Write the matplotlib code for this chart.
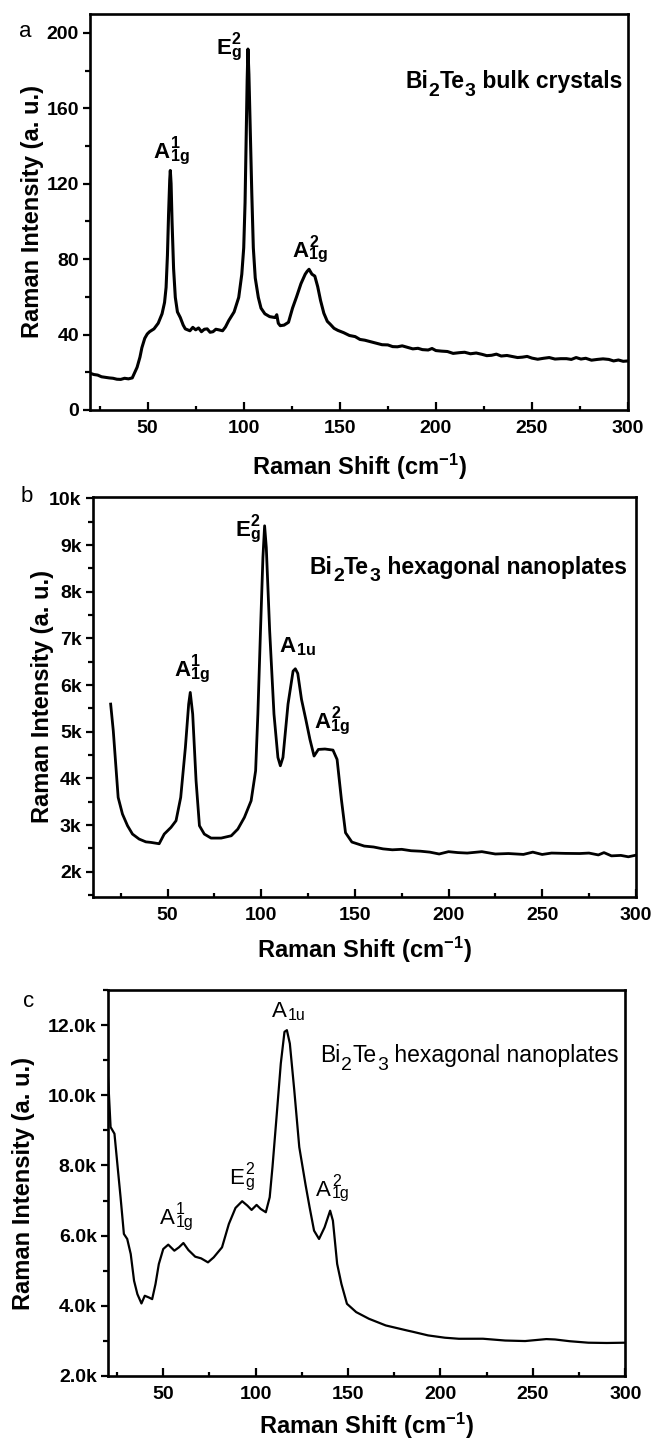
import matplotlib
matplotlib.use('Agg')
import matplotlib.pyplot as plt
from matplotlib.ticker import MultipleLocator, FuncFormatter

plt.rcParams['font.family'] = ['Liberation Sans', 'DejaVu Sans']
plt.rcParams['font.weight'] = 'bold'
plt.rcParams['mathtext.fontset'] = 'custom'
plt.rcParams['mathtext.rm'] = 'Liberation Sans:bold'
plt.rcParams['mathtext.it'] = 'Liberation Sans:bold'
plt.rcParams['mathtext.bf'] = 'Liberation Sans:bold'
plt.rcParams['mathtext.default'] = 'rm'

# ---------------- data ----------------
# panel a: Bi2Te3 bulk crystals
shift_a = [20, 22, 24, 26, 28, 30, 32, 34, 36, 38, 40, 42, 44.5, 46, 47, 48.5, 49.8, 51, 53.3,
           55.5, 57.5, 58.8, 59.6, 60.3, 60.9, 61.5, 61.8, 62.2, 62.7, 63.5, 64.4, 65.5, 67,
           68.5, 69.6, 72, 73.5, 75, 76.5, 78, 79.5, 81, 82.5, 84, 85.5, 87, 89, 90.5, 92.2, 95,
           97.4, 99, 100, 100.7, 101.2, 101.8, 102.2, 102.7, 103.4, 104.2, 105, 106, 107.6, 109,
           111, 113.5, 116.3, 117.2, 118, 119, 121, 123.3, 125.4, 127.5, 129.8, 132, 133,
           134, 135.5, 137, 138.5, 140, 141.7, 143.5, 145, 147, 149, 152, 155, 158, 160.5,
           163, 166, 169, 172, 175, 177.5, 180, 182.5, 185, 188, 190.7, 193, 196, 198, 200,
           203, 206, 209, 212.4, 215, 218, 221, 224, 226.5, 229, 231.5, 234, 237, 240, 242.5,
           245, 247.5, 250, 253, 256, 259, 262, 265, 268, 270.5, 273, 275.5, 278, 281, 284,
           287, 290, 292.5, 295, 297.5, 300]
inten_a = [19.5, 18.8, 18.5, 17.6, 17.3, 17.0, 16.8, 16.3, 16.2, 16.8, 16.5, 17, 22.6, 28, 33,
           38, 40.3, 41.5, 43, 46, 51, 57, 65, 82, 104, 122, 127, 120, 100, 75, 59.7, 52, 49,
           45, 43, 42, 43.8, 42.5, 43.5, 41.5, 42.8, 43, 41.2, 41.5, 42.8, 42.5, 42, 44, 47.4,
           52, 59.7, 72, 86, 110, 139, 175, 191.4, 178, 148, 115, 86, 70, 59.7, 54,
           51, 49.5, 49, 50.5, 46, 44.7, 45, 46.5, 54, 60, 67, 72, 73.5,
           74.6, 72, 71, 65.4, 58, 51.3, 47, 45.5, 43.3, 42.2, 41, 39.5, 38.9, 37.4,
           37, 36.2, 35.4, 34.6, 34.5, 33.6, 33.5, 34.0, 33.3, 32.4, 32.7, 32.0, 31.8, 32.6, 31.5,
           31.2, 31, 30.0, 30.4, 30.6, 29.8, 30.2, 29.5, 28.8, 29, 29.6, 28.6, 28.9, 28.3, 27.8,
           28, 28.4, 27.5, 26.9, 27.4, 27.8, 27, 27.2, 27.2, 26.8, 27.8, 27.0, 27.4, 26.4, 26.8,
           27.1, 26.8, 26.0, 26.5, 25.8, 26]

# panel b: Bi2Te3 hexagonal nanoplates
shift_b = [19.6, 21, 22.3, 23.6, 25.9, 28.6, 31.25, 34.8, 38.4, 41, 45.5, 48.2, 51.8, 54.5, 57,
           59.5, 61.25, 62.1, 63.4, 65.2, 67, 69.6, 73.2, 78.6, 84, 87.5, 91, 94.6, 97, 98.2,
           99.6, 100.9, 101.8, 102.7, 104.5, 106.8, 108.9, 110.2, 111.6, 114.3, 117, 118.2,
           119.5, 121.5, 123.8, 126, 128.2, 130.5, 134, 138.3, 140.5, 142.8, 145, 148.4, 155,
           160, 165, 170, 175, 180, 185, 190, 195, 200, 205, 210, 217.8, 225, 232, 240, 245,
           250, 255, 262.5, 270, 275, 280, 283, 287, 292, 296, 299.5]
inten_b = [5593, 5021, 4307, 3593, 3236, 2986, 2807, 2700, 2640, 2629, 2600, 2807, 2950, 3093, 3593,
           4664, 5593, 5843, 5379, 3950, 2986, 2807, 2721, 2721, 2771, 2914, 3164, 3521, 4164, 5379,
           7164, 8736, 9414, 8950, 7164, 5379, 4450, 4271, 4450, 5593, 6300, 6350,
           6250, 5693, 5264, 4836, 4479, 4621, 4630, 4607, 4407, 3550, 2836, 2636, 2550,
           2530, 2490, 2470, 2480, 2450, 2440, 2420, 2380, 2430, 2410, 2400, 2430, 2380, 2390, 2371, 2420,
           2370, 2400, 2393, 2390, 2400, 2360, 2410, 2340, 2350, 2320, 2350]

# panel c: Bi2Te3 hexagonal nanoplates
shift_c = [19.6, 20.4, 21.5, 23.6, 25.5, 26.9, 28.7, 30.5, 32.4, 34.2, 36, 38.2, 40, 42.2, 44,
           45.8, 47.6, 50, 52.7, 56, 58.5, 60.9, 63.6, 67.3, 70.5, 74.2, 77.3, 81.8, 85.5, 89.1,
           92.7, 95.5, 97.8, 100.5, 102.7, 105.5, 107.6, 109.1, 111.3, 113.6, 115.6, 116.9,
           118.5, 120.9, 123.6, 127, 129.2, 131.6, 134.3, 137.3, 140.3, 141.8, 144.1,
           146.4, 149.4, 154.4, 161.3, 170.4, 181.8, 185, 193.3, 202.4, 210, 223, 235, 245.8,
           257.3, 262, 270, 280, 290, 300]
inten_c = [10952, 10238, 9095, 8905, 7857, 7095, 6048, 5905, 5476, 4714, 4333, 4067, 4286, 4238, 4190,
           4619, 5190, 5619, 5743, 5571, 5667, 5790, 5590, 5400, 5352, 5238, 5381, 5667, 6333, 6790,
           6981, 6857, 6733, 6876, 6762, 6667, 7095, 7952, 9381, 10905, 11810, 11857,
           11476, 10143, 8524, 7450, 6806, 6142, 5905, 6237, 6711, 6427, 5194,
           4625, 4057, 3820, 3630, 3440, 3298, 3260, 3156, 3090, 3060, 3061, 3010, 2995,
           3051, 3040, 2990, 2948, 2940, 2948]

xticks_major = [50, 100, 150, 200, 250, 300]
yticks_a = [0, 40, 80, 120, 160, 200]
yticks_b = [2000, 3000, 4000, 5000, 6000, 7000, 8000, 9000, 10000]
yticks_c = [2000, 4000, 6000, 8000, 10000, 12000]

# ---------------- figure ----------------
fig = plt.figure(figsize=(6.55, 14.42), dpi=100)
ax_a = fig.add_axes([0.1374, 0.7157, 0.8214, 0.2746])
ax_b = fig.add_axes([0.1415, 0.378, 0.8292, 0.2773])
ax_c = fig.add_axes([0.1646, 0.0458, 0.7900, 0.2676])


def style(ax, lab_size):
    for s in ax.spines.values():
        s.set_linewidth(1.9)
    ax.tick_params(axis='x', which='major', direction='in', length=6, width=1.6,
                   labelsize=lab_size, pad=7)
    ax.tick_params(axis='x', which='minor', direction='in', length=3, width=1.6)
    ax.tick_params(axis='y', which='major', direction='out', length=5, width=1.6,
                   labelsize=lab_size, pad=3)
    ax.tick_params(axis='y', which='minor', direction='out', length=3.5, width=1.6)
    ax.set_xticks(xticks_major)
    ax.xaxis.set_minor_locator(MultipleLocator(25))


def mode_label(ax, x, y, base, sup, sub, size, weight):
    t = ax.text(x, y, base, fontsize=size, fontweight=weight, ha='left', va='baseline')
    ss = size * 0.72
    if sup:
        ax.annotate(sup, xy=(1, y), xycoords=(t, 'data'), xytext=(0.6, 7.0),
                    textcoords='offset points', fontsize=ss, fontweight=weight,
                    ha='left', va='baseline')
    if sub:
        ax.annotate(sub, xy=(1, y), xycoords=(t, 'data'), xytext=(0.6, -2.0),
                    textcoords='offset points', fontsize=ss, fontweight=weight,
                    ha='left', va='baseline')


def formula(ax, x, y, rest, size, weight):
    pieces = [('Bi', 0), ('2', 1), ('Te', 0), ('3', 1), (rest, 0)]
    prev = None
    for txt, is_sub in pieces:
        fs = size * 0.85 if is_sub else size
        dy = -5.5 if is_sub else 0
        if prev is None:
            prev = ax.text(x, y, txt, fontsize=fs, fontweight=weight, ha='left', va='baseline')
        else:
            prev = ax.annotate(txt, xy=(1, y), xycoords=(prev, 'data'), xytext=(0.3, dy),
                               textcoords='offset points', fontsize=fs, fontweight=weight,
                               ha='left', va='baseline')


xlabel = 'Raman Shift (cm$^{-1}$)'
ylabel = 'Raman Intensity (a. u.)'

# panel a
ax_a.plot(shift_a, inten_a, color='black', lw=2.2)
ax_a.set_xlim(20, 300)
ax_a.set_ylim(0, 210)
style(ax_a, 14)
ax_a.set_yticks(yticks_a)
ax_a.yaxis.set_minor_locator(MultipleLocator(20))
ax_a.set_xlabel(xlabel, fontsize=17, fontweight='bold')
ax_a.set_ylabel(ylabel, fontsize=17, fontweight='bold')
ax_a.xaxis.set_label_coords(0.5, -0.105)
ax_a.yaxis.set_label_coords(-0.086, 0.5)
mode_label(ax_a, 53.2, 133.6, 'A', '1', '1g', 16, 'bold')
mode_label(ax_a, 85.6, 188.8, 'E', '2', 'g', 16, 'bold')
mode_label(ax_a, 125.4, 81.3, 'A', '2', '1g', 16, 'bold')
formula(ax_a, 184, 170.6, ' bulk crystals', 16.5, 'bold')

# panel b
ax_b.plot(shift_b, inten_b, color='black', lw=2.0)
ax_b.set_xlim(10, 300)
ax_b.set_ylim(1460, 10030)
style(ax_b, 14)
ax_b.set_yticks(yticks_b)
ax_b.yaxis.set_minor_locator(MultipleLocator(500))
ax_b.yaxis.set_major_formatter(FuncFormatter(lambda v, p: '{:.0f}k'.format(v / 1000)))
ax_b.set_xlabel(xlabel, fontsize=17, fontweight='bold')
ax_b.set_ylabel(ylabel, fontsize=17, fontweight='bold')
ax_b.xaxis.set_label_coords(0.5, -0.095)
ax_b.yaxis.set_label_coords(-0.071, 0.5)
mode_label(ax_b, 53.6, 6200, 'A', '1', '1g', 16, 'bold')
mode_label(ax_b, 86, 9200, 'E', '2', 'g', 16, 'bold')
mode_label(ax_b, 109.9, 6707, 'A', '', '1u', 16, 'bold')
mode_label(ax_b, 128.2, 5086, 'A', '2', '1g', 16, 'bold')
formula(ax_b, 125.9, 8386, ' hexagonal nanoplates', 16.5, 'bold')

# panel c
ax_c.plot(shift_c, inten_c, color='black', lw=1.6)
ax_c.set_xlim(20, 300)
ax_c.set_ylim(2000, 13000)
style(ax_c, 14)
ax_c.set_yticks(yticks_c)
ax_c.yaxis.set_minor_locator(MultipleLocator(1000))
ax_c.yaxis.set_major_formatter(FuncFormatter(lambda v, p: '{:.1f}k'.format(v / 1000)))
ax_c.set_xlabel(xlabel, fontsize=17, fontweight='bold')
ax_c.set_ylabel(ylabel, fontsize=17, fontweight='bold')
ax_c.xaxis.set_label_coords(0.5, -0.091)
ax_c.yaxis.set_label_coords(-0.14, 0.5)
mode_label(ax_c, 108.7, 12230, 'A', '', '1u', 16, 'normal')
mode_label(ax_c, 85.8, 7476, 'E', '2', 'g', 16, 'normal')
mode_label(ax_c, 48.2, 6333, 'A', '1', '1g', 16, 'normal')
mode_label(ax_c, 132.7, 7138, 'A', '2', '1g', 16, 'normal')
formula(ax_c, 135, 10942, ' hexagonal nanoplates', 16.5, 'normal')

# panel letters
fig.text(0.029, 0.9743, 'a', fontsize=16, fontweight='normal', ha='left', va='baseline')
fig.text(0.032, 0.6519, 'b', fontsize=16, fontweight='normal', ha='left', va='baseline')
fig.text(0.035, 0.3017, 'c', fontsize=16, fontweight='normal', ha='left', va='baseline')

fig.savefig('out.png', dpi=100)
